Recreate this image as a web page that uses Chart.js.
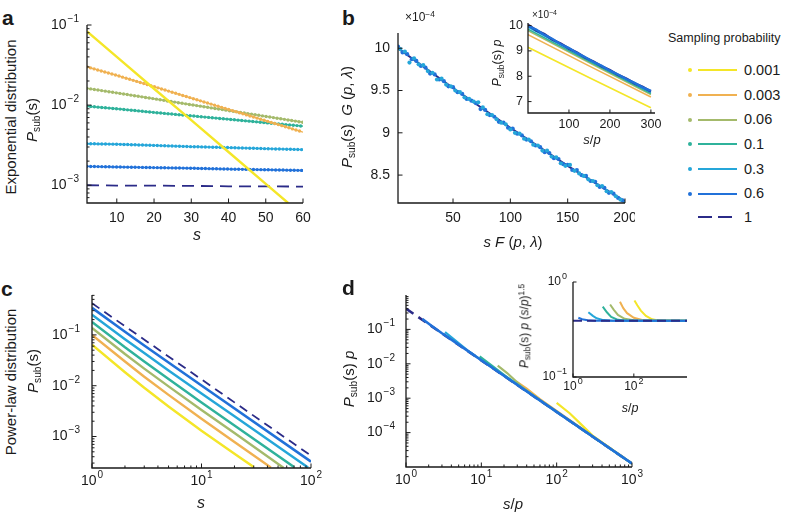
<!DOCTYPE html>
<html>
<head>
<meta charset="utf-8">
<script src="https://cdn.jsdelivr.net/npm/chart.js@4.4.0/dist/chart.umd.min.js"></script>
<style>
  body { margin: 0; background: #fff; }
  #wrap { position: relative; width: 788px; height: 512px; overflow: hidden;
          font-family: 'Liberation Sans', Arial, Helvetica, sans-serif; color: #1a1a1a; }
  canvas { position: absolute; }
  .t { position: absolute; white-space: nowrap; line-height: 1; z-index: 5; }
  .ctr { transform: translate(-50%, -50%); }
  .rot { transform: translate(-50%, -50%) rotate(-90deg); }
  .lbl { font-weight: bold; font-size: 21px; }
  .sb { font-size: 0.68em; vertical-align: -0.3em; }
  .sp { font-size: 0.7em; vertical-align: 0.45em; }
</style>
</head>
<body>
<div id="wrap">
  <div class="t lbl" style="left:2px;top:7px">a</div>
  <div class="t lbl" style="left:342px;top:7px">b</div>
  <div class="t lbl" style="left:1px;top:278px">c</div>
  <div class="t lbl" style="left:342px;top:277px">d</div>

  <div class="t rot" style="left:10px;top:117px;font-size:15px">Exponential distribution</div>
  <div class="t rot" style="left:33px;top:120px;font-size:15px"><i>P</i><span class="sb">sub</span>(s)</div>
  <div class="t ctr" style="left:197px;top:235px;font-size:16px"><i>s</i></div>

  <div class="t rot" style="left:348px;top:117px;font-size:15px"><i>P</i><span class="sb">sub</span>(s)&nbsp;&nbsp;<i>G</i> (<i>p</i>, <i>λ</i>)</div>
  <div class="t ctr" style="left:513px;top:241px;font-size:15px"><i>s F</i> (<i>p</i>, <i>λ</i>)</div>
  <div class="t" style="left:405px;top:10px;font-size:12px">×10<span class="sp">−4</span></div>
  <div class="t" style="left:532px;top:9px;font-size:10px">×10<span class="sp">−4</span></div>
  <div class="t rot" style="left:498px;top:63px;font-size:12.5px"><i>P</i><span class="sb">sub</span>(s) <i>p</i></div>
  <div class="t ctr" style="left:592px;top:139px;font-size:13px"><i>s</i>/<i>p</i></div>

  <div class="t rot" style="left:10px;top:382px;font-size:15px">Power-law distribution</div>
  <div class="t rot" style="left:34px;top:371px;font-size:15px"><i>P</i><span class="sb">sub</span>(s)</div>
  <div class="t ctr" style="left:201px;top:503px;font-size:16px"><i>s</i></div>

  <div class="t rot" style="left:350px;top:379px;font-size:15px"><i>P</i><span class="sb">sub</span>(s) <i>p</i></div>
  <div class="t ctr" style="left:513px;top:503px;font-size:15px"><i>s</i>/<i>p</i></div>
  <div class="t rot" style="left:525px;top:326px;font-size:12px"><i>P</i><span class="sb">sub</span>(s) <i>p</i> (<i>s</i>/<i>p</i>)<span class="sp">1.5</span></div>
  <div class="t ctr" style="left:630px;top:408px;font-size:12.5px"><i>s</i>/<i>p</i></div>

  <div class="t" style="left:668px;top:32px;font-size:12.5px">Sampling probability</div>
  <div id="legend"></div>
</div>
<script>
const FONT = "'Liberation Sans', Arial, Helvetica, sans-serif";

// legend / series
const pLabels = ['0.001', '0.003', '0.06', '0.1', '0.3', '0.6', '1'];
const pColors = ['#f4e628', '#f0b151', '#a4ba6b', '#2fb29b', '#25a6d9', '#2171d9', '#2b2b88'];
const legendY = [70, 95, 119.5, 144, 169, 193.5, 217];

// a: exponential distribution
const aS = [2, 10, 20, 30, 40, 50, 60];
const aYellowS = [2, 10, 20, 30, 40, 50, 56];
const aYellow = [0.083, 0.040, 0.016, 0.0065, 0.0026, 0.00104, 0.0006];
const aOrange = [0.030, 0.0235, 0.0170, 0.01225, 0.00883, 0.00638, 0.0046];
const aOlive = [0.0162, 0.0142, 0.0120, 0.0101, 0.00855, 0.00723, 0.0061];
const aTeal = [0.0097, 0.0090, 0.0081, 0.00735, 0.00666, 0.00603, 0.00546];
const aLightBlue = [0.0033, 0.00325, 0.00314, 0.00303, 0.00295, 0.00286, 0.00278];
const aBlue = [0.00172, 0.00169, 0.00166, 0.00163, 0.00159, 0.00156, 0.00153];
const aNavy = [0.00100, 0.00099, 0.00099, 0.00098, 0.00097, 0.00097, 0.00096];
const aXTicks = [10, 20, 30, 40, 50, 60];
const aYTicks = [1e-3, 1e-2, 1e-1];

// b: collapsed data
const bBlueX = [2,6,10,14,18,22,26,30,34,38,42,46,50,54,58,62,66,70,74,78,82,86,90,94,98,102,106,110,114,118,122,126,130,134,138,142,146,150,154,158,162,166,170,174,178,182,186,190,194,198];
const bBlueY = [10.02,9.95,9.93,9.87,9.85,9.79,9.77,9.70,9.69,9.63,9.61,9.55,9.54,9.48,9.46,9.40,9.38,9.35,9.28,9.27,9.21,9.19,9.13,9.12,9.06,9.05,8.99,8.97,8.92,8.90,8.85,8.83,8.77,8.76,8.70,8.69,8.63,8.62,8.56,8.56,8.50,8.49,8.43,8.42,8.36,8.35,8.29,8.28,8.23,8.20];
const bCyanX = [4,8,12,16,20,24,28,32,36,40,44,48,52,56,60,64,68,72,76,80,84,88,92,96,100,104,108,112,116,120,124,128,132,136,140,144,148,152,156,160,164,168,172,176,180,184,188,192,196,200];
const bCyanY = [9.99,9.96,9.83,9.88,9.81,9.80,9.73,9.71,9.63,9.64,9.57,9.55,9.50,9.48,9.42,9.40,9.37,9.36,9.30,9.22,9.21,9.16,9.12,9.10,9.04,9.00,8.99,8.93,8.92,8.86,8.85,8.79,8.79,8.72,8.71,8.64,8.61,8.62,8.55,8.52,8.49,8.45,8.43,8.38,8.37,8.31,8.30,8.25,8.21,8.17];
const bLineX = [2, 50, 100, 150, 200];
const bLineY = [10.00, 9.53, 9.06, 8.61, 8.19];
const bXTicks = [50, 100, 150, 200];
const bYTicks = [8.5, 9, 9.5, 10];

// b inset
const biX = [0,20,40,60,80,100,120,140,160,180,200,220,240,260,280,300];
const biNavy = [10.03,9.81,9.66,9.44,9.29,9.09,8.93,8.73,8.58,8.39,8.24,8.05,7.91,7.72,7.58,7.40];
const biBlue = [9.98,9.84,9.63,9.47,9.26,9.11,8.91,8.75,8.56,8.41,8.22,8.07,7.89,7.74,7.56,7.42];
const biLineX = [0, 150, 300];
const biLightBlue = [9.94, 8.64, 7.37];
const biTeal = [9.86, 8.58, 7.32];
const biOlive = [9.80, 8.53, 7.28];
const biOrange = [9.64, 8.40, 7.18];
const biYellow = [9.14, 7.94, 6.76];
const biXTicks = [100, 200, 300];
const biYTicks = [7, 8, 9, 10];

// c: power-law distribution
const cYellowS = [1, 2, 3, 5, 10, 20, 30];
const cYellow = [0.064, 0.0184, 0.0091, 0.0039, 0.0013, 0.00046, 0.00025];
const cOrangeS = [1, 2, 3, 5, 10, 20, 43];
const cOrange = [0.10, 0.030, 0.0150, 0.0066, 0.00223, 0.00078, 0.000246];
const cOliveS = [1, 2, 3, 5, 10, 20, 56];
const cOlive = [0.137, 0.042, 0.0217, 0.0097, 0.00333, 0.00117, 0.000243];
const cTealS = [1, 2, 3, 5, 10, 20, 70];
const cTeal = [0.18, 0.057, 0.030, 0.0135, 0.00467, 0.00164, 0.00025];
const cLightBlueS = [1, 2, 3, 5, 10, 20, 94];
const cLightBlue = [0.25, 0.082, 0.044, 0.020, 0.0070, 0.0025, 0.000245];
const cBlueS = [1, 2, 3, 5, 10, 100];
const cBlue = [0.34, 0.115, 0.062, 0.0286, 0.0101, 0.00032];
const cNavyS = [1, 100];
const cNavy = [0.42, 0.00042];
const cXTicks = [1, 10, 100];
const cYTicks = [1e-3, 1e-2, 1e-1];

// d: rescaled power law
const dNavyS = [1, 1000];
const dNavy = [0.40, 1.26e-5];
const dBlueS = [1.65, 2.2, 3, 5, 10, 100, 1000];
const dBlue = [0.20, 0.125, 0.077, 0.036, 0.0127, 0.0004, 1.26e-5];
const dLightBlueS = [3.3, 4.5, 7, 10, 1000];
const dLightBlue = [0.083, 0.048, 0.022, 0.0128, 1.26e-5];
const dTealS = [9.5, 13, 20, 40, 1000];
const dTeal = [0.0163, 0.0098, 0.0048, 0.0016, 1.26e-5];
const dOliveS = [16.5, 22, 35, 70, 1000];
const dOlive = [0.0088, 0.0054, 0.0021, 0.00069, 1.26e-5];
const dOrangeS = [29, 40, 60, 120, 1000];
const dOrange = [0.0031, 0.0019, 0.00094, 0.00032, 1.26e-5];
const dYellowS = [100, 150, 200, 300, 1000];
const dYellow = [0.00073, 0.00036, 0.000195, 8.2e-5, 1.26e-5];
const dXTicks = [1, 10, 100, 1000];
const dYTicks = [1e-4, 1e-3, 1e-2, 1e-1];

// d inset
const diNavyS = [1, 5600];
const diNavy = [0.39, 0.39];
const diBlueS = [1.5, 2, 3, 5, 5600];
const diBlue = [0.42, 0.405, 0.395, 0.39, 0.39];
const diLightBlueS = [3.2, 4.5, 6, 10, 20, 5600];
const diLightBlue = [0.48, 0.44, 0.415, 0.397, 0.39, 0.39];
const diTealS = [9.5, 13, 18, 30, 60, 5600];
const diTeal = [0.55, 0.48, 0.43, 0.40, 0.39, 0.39];
const diOliveS = [16.6, 22, 30, 50, 100, 5600];
const diOlive = [0.58, 0.51, 0.45, 0.41, 0.395, 0.39];
const diOrangeS = [35, 45, 60, 100, 200, 5600];
const diOrange = [0.62, 0.53, 0.47, 0.42, 0.395, 0.39];
const diYellowS = [105, 130, 170, 250, 400, 700, 5600];
const diYellow = [0.64, 0.57, 0.50, 0.44, 0.405, 0.392, 0.39];
const diXTicks = [1, 100];
const diYTicks = [0.1, 1];

const [YEL, ORA, OLI, TEA, LBL, BLU, NAV] = pColors;

function pts(xs, ys) { return xs.map((x, i) => ({ x: x, y: ys[i] })); }

function logMinor(min, max) {
  const out = [];
  for (let e = Math.floor(Math.log10(min)); e <= Math.ceil(Math.log10(max)); e++) {
    for (let k = 2; k <= 9; k++) {
      const v = k * Math.pow(10, e);
      if (v >= min && v <= max) out.push(v);
    }
  }
  return out;
}

function line(data, color, width, extra) {
  return Object.assign({ data: data, borderColor: color, backgroundColor: color,
    borderWidth: width, pointRadius: 0, fill: false, clip: 0 }, extra || {});
}
function beads(data, color) {
  return line(data, color, 3.4, { borderDash: [0, 3.7], borderCapStyle: 'round' });
}
function dots(data, color, r) {
  return { data: data, showLine: false, pointRadius: r, pointBackgroundColor: color,
    pointBorderWidth: 0, borderColor: color, clip: 0 };
}

// label like 10^-2 drawn with a raised exponent
function drawTickLabel(ctx, v, log, x, y, align, size) {
  let base = String(v), sup = '';
  if (log) {
    const e = Math.round(Math.log10(v));
    base = '10'; sup = (e < 0 ? '\u2212' : '') + Math.abs(e);
  }
  const ss = Math.round(size * 0.72);
  ctx.font = size + 'px ' + FONT;
  const wb = ctx.measureText(base).width;
  let ws = 0;
  if (sup) { ctx.font = ss + 'px ' + FONT; ws = ctx.measureText(sup).width + 1; }
  const x0 = align === 'center' ? x - (wb + ws) / 2 : x - wb - ws;
  ctx.textAlign = 'left';
  ctx.textBaseline = 'middle';
  ctx.font = size + 'px ' + FONT;
  ctx.fillText(base, x0, y);
  if (sup) { ctx.font = ss + 'px ' + FONT; ctx.fillText(sup, x0 + wb + 1, y - size * 0.42); }
}

// axis lines, inward ticks, labels (MATLAB style)
function axisDeco(cfg) {
  return {
    id: 'axisDeco',
    afterDraw(chart) {
      const ctx = chart.ctx, a = chart.chartArea;
      const xs = chart.scales.x, ys = chart.scales.y;
      ctx.save();
      ctx.strokeStyle = '#1a1a1a';
      ctx.fillStyle = '#1a1a1a';
      ctx.lineWidth = 1.3;
      ctx.beginPath();
      ctx.moveTo(a.left, a.top);
      ctx.lineTo(a.left, a.bottom);
      ctx.lineTo(a.right, a.bottom);
      ctx.stroke();
      ctx.lineWidth = 1;
      ctx.beginPath();
      const tick = (horiz, sc, v, len) => {
        const p = sc.getPixelForValue(v);
        if (horiz) { ctx.moveTo(p, a.bottom); ctx.lineTo(p, a.bottom - len); }
        else { ctx.moveTo(a.left, p); ctx.lineTo(a.left + len, p); }
      };
      (cfg.x.minor || []).forEach(v => tick(true, xs, v, 2.5));
      (cfg.y.minor || []).forEach(v => tick(false, ys, v, 2.5));
      cfg.x.major.forEach(v => tick(true, xs, v, cfg.len || 4.5));
      cfg.y.major.forEach(v => tick(false, ys, v, cfg.len || 4.5));
      ctx.stroke();
      cfg.x.major.forEach(v => drawTickLabel(ctx, v, cfg.x.log, xs.getPixelForValue(v),
        a.bottom + cfg.x.dy, 'center', cfg.size));
      cfg.y.major.forEach(v => drawTickLabel(ctx, v, cfg.y.log, a.left - cfg.y.gap,
        ys.getPixelForValue(v), 'right', cfg.size));
      ctx.restore();
    }
  };
}

function axis(type, min, max) {
  return { type: type, min: min, max: max, grid: { display: false, drawTicks: false },
    border: { display: false }, ticks: { display: false } };
}

// rect: [left, top, right, bottom] of the plot area; pad: [left, top, right, bottom]
function panel(rect, pad, scales, datasets, deco) {
  const c = document.createElement('canvas');
  const W = rect[2] - rect[0] + pad[0] + pad[2];
  const H = rect[3] - rect[1] + pad[1] + pad[3];
  c.width = W; c.height = H;
  c.style.left = (rect[0] - pad[0]) + 'px';
  c.style.top = (rect[1] - pad[1]) + 'px';
  c.style.width = W + 'px';
  c.style.height = H + 'px';
  document.getElementById('wrap').appendChild(c);
  scales.x.afterFit = s => { s.height = pad[3]; };
  scales.y.afterFit = s => { s.width = pad[0]; };
  return new Chart(c.getContext('2d'), {
    type: 'line',
    data: { datasets: datasets },
    options: {
      responsive: false,
      animation: false,
      devicePixelRatio: 1,
      layout: { autoPadding: false, padding: { left: 0, top: pad[1], right: pad[2], bottom: 0 } },
      plugins: { legend: { display: false }, tooltip: { enabled: false } },
      elements: { line: { tension: 0 } },
      scales: scales
    },
    plugins: [axisDeco(deco)]
  });
}

// a
panel([87, 25, 303, 203], [50, 12, 12, 34],
  { x: axis('linear', 2, 60), y: axis('logarithmic', 6.3e-4, 0.1) },
  [
    line(pts(aYellowS, aYellow), YEL, 2.4),
    beads(pts(aS, aOrange), ORA), line(pts(aS, aOrange), ORA, 1.4),
    beads(pts(aS, aOlive), OLI), line(pts(aS, aOlive), OLI, 1.4),
    beads(pts(aS, aTeal), TEA), line(pts(aS, aTeal), TEA, 1.4),
    beads(pts(aS, aLightBlue), LBL), line(pts(aS, aLightBlue), LBL, 1.4),
    beads(pts(aS, aBlue), BLU), line(pts(aS, aBlue), BLU, 1.4),
    line(pts(aS, aNavy), NAV, 1.8, { borderDash: [12, 7] })
  ],
  { size: 14, x: { major: aXTicks, dy: 15 },
    y: { major: aYTicks, minor: logMinor(6.3e-4, 0.1), log: true, gap: 8 } });

// b
panel([398, 33, 625, 203], [42, 10, 10, 34],
  { x: axis('linear', 2, 200), y: axis('linear', 8.17, 10.18) },
  [
    dots(pts(bCyanX, bCyanY), LBL, 2.1),
    dots(pts(bBlueX, bBlueY), BLU, 2.1),
    line(pts(bLineX, bLineY), NAV, 2)
  ],
  { size: 14, x: { major: bXTicks, dy: 15 }, y: { major: bYTicks, gap: 8 } });

// b inset
panel([528, 23, 655, 113], [30, 6, 8, 24],
  { x: axis('linear', 0, 310), y: axis('linear', 6.55, 10.1) },
  [
    line(pts(biX, biBlue), BLU, 2.4),
    line(pts(biX, biNavy), NAV, 2.4),
    line(pts(biLineX, biLightBlue), LBL, 1.6),
    line(pts(biLineX, biTeal), TEA, 1.6),
    line(pts(biLineX, biOlive), OLI, 1.6),
    line(pts(biLineX, biOrange), ORA, 1.6),
    line(pts(biLineX, biYellow), YEL, 1.6)
  ],
  { size: 12.5, len: 3.5, x: { major: biXTicks, dy: 12 }, y: { major: biYTicks, gap: 5 } });

// c
panel([92, 295, 311, 468], [55, 10, 14, 34],
  { x: axis('logarithmic', 1, 100), y: axis('logarithmic', 2.4e-4, 0.61) },
  [
    line(pts(cNavyS, cNavy), NAV, 1.8, { borderDash: [9, 6] }),
    line(pts(cBlueS, cBlue), BLU, 2.6),
    line(pts(cLightBlueS, cLightBlue), LBL, 2.4),
    line(pts(cTealS, cTeal), TEA, 2.4),
    line(pts(cOliveS, cOlive), OLI, 2.4),
    line(pts(cOrangeS, cOrange), ORA, 2.4),
    line(pts(cYellowS, cYellow), YEL, 2.4)
  ],
  { size: 14, x: { major: cXTicks, minor: logMinor(1, 100), log: true, dy: 13 },
    y: { major: cYTicks, minor: logMinor(2.4e-4, 0.61), log: true, gap: 12 } });

// d
panel([406, 295, 632, 467], [55, 10, 14, 34],
  { x: axis('logarithmic', 1, 1000), y: axis('logarithmic', 1e-5, 1) },
  [
    line(pts(dBlueS, dBlue), BLU, 2.6),
    line(pts(dLightBlueS, dLightBlue), LBL, 2.2),
    line(pts(dTealS, dTeal), TEA, 2.2),
    line(pts(dOliveS, dOlive), OLI, 2.2),
    line(pts(dOrangeS, dOrange), ORA, 2.2),
    line(pts(dYellowS, dYellow), YEL, 2.2),
    line(pts(dNavyS, dNavy), NAV, 2.6, { borderDash: [9, 6] })
  ],
  { size: 14, x: { major: dXTicks, minor: logMinor(1, 1000), log: true, dy: 13 },
    y: { major: dYTicks, minor: logMinor(1e-5, 1), log: true, gap: 11 } });

// d inset
panel([573, 282, 687, 377], [42, 16, 8, 24],
  { x: axis('logarithmic', 1, 5600), y: axis('logarithmic', 0.1, 1) },
  [
    line(pts(diNavyS, diNavy), NAV, 2, { borderDash: [9, 5] }),
    line(pts(diBlueS, diBlue), BLU, 2),
    line(pts(diLightBlueS, diLightBlue), LBL, 2),
    line(pts(diTealS, diTeal), TEA, 2),
    line(pts(diOliveS, diOlive), OLI, 2),
    line(pts(diOrangeS, diOrange), ORA, 2),
    line(pts(diYellowS, diYellow), YEL, 2)
  ],
  { size: 12, len: 3.5, x: { major: diXTicks, log: true, dy: 10 }, y: { major: diYTicks, log: true, gap: 6 } });

// legend
const leg = document.getElementById('legend');
pLabels.forEach((lab, i) => {
  const y = legendY[i], col = pColors[i];
  let html = '';
  if (lab !== '1') {
    html += '<div style="position:absolute;left:688px;top:' + (y - 2) + 'px;width:4px;height:4px;border-radius:50%;background:' + col + '"></div>';
    html += '<div style="position:absolute;left:698px;top:' + (y - 1) + 'px;width:39px;height:2px;background:' + col + '"></div>';
  } else {
    html += '<div style="position:absolute;left:698px;top:' + (y - 1) + 'px;width:14px;height:2px;background:' + col + '"></div>';
    html += '<div style="position:absolute;left:718px;top:' + (y - 1) + 'px;width:14px;height:2px;background:' + col + '"></div>';
  }
  html += '<div class="t" style="left:744px;top:' + (y - 7.5) + 'px;font-size:14.5px">' + lab + '</div>';
  leg.insertAdjacentHTML('beforeend', html);
});
</script>
</body>
</html>
